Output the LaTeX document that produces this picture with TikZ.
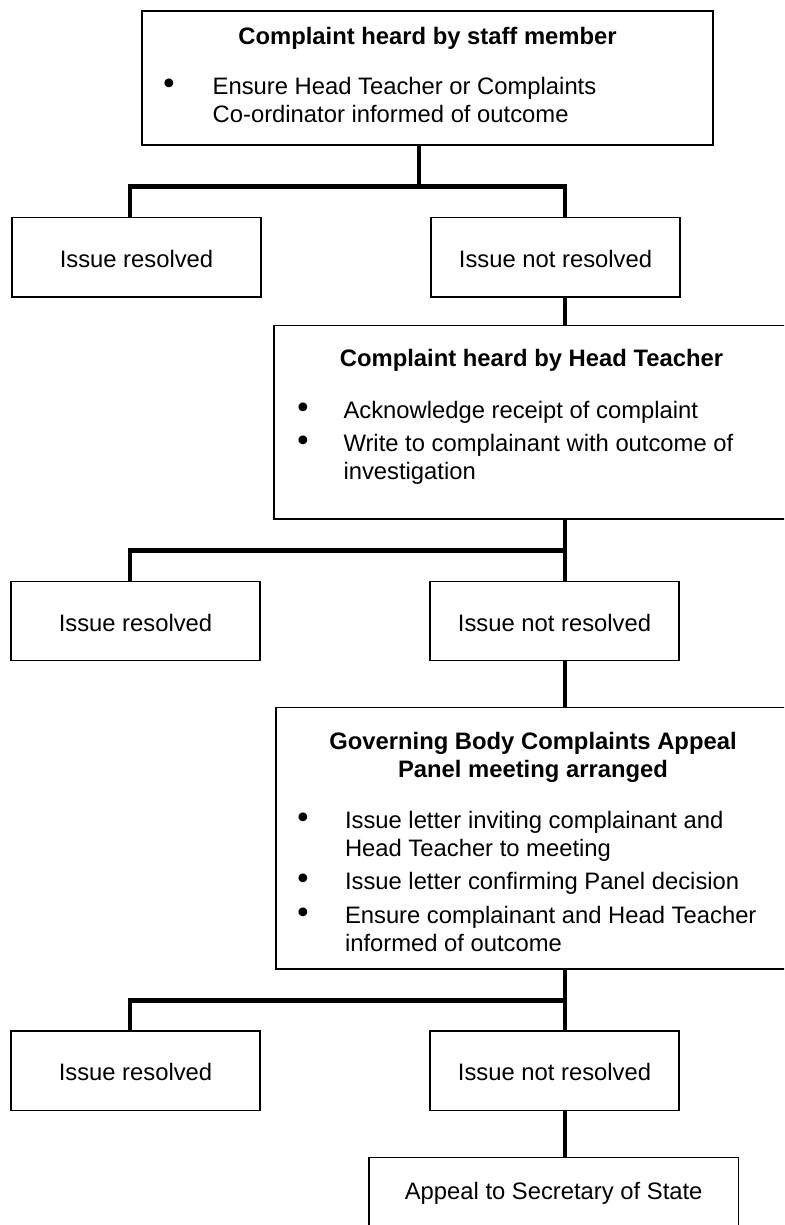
\documentclass[tikz,border=0pt]{standalone}
\usepackage{fontspec}
\setmainfont{Liberation Sans}
\newfontfamily\bulletfont{DejaVu Sans}
\begin{document}
\begin{tikzpicture}[x=1pt,y=-1pt,
  box/.style={draw=black,line width=1.3pt,inner sep=0pt,outer sep=0pt,anchor=north west},
  simple/.style={box,font=\fontsize{23.8}{28}\selectfont,text height=20pt,text depth=0pt},
  conn/.style={draw=black,line width=4.5pt,line join=miter,line cap=butt},
  txt/.style={inner sep=0pt,outer sep=0pt,anchor=base west,font=\fontsize{23.8}{28}\selectfont},
  ttl/.style={inner sep=0pt,outer sep=0pt,anchor=base,font=\fontsize{23.8}{28}\selectfont\bfseries},
  bul/.style={inner sep=0pt,outer sep=0pt,anchor=base,text height=15pt,text depth=0pt,font=\bulletfont\fontsize{30}{30}\selectfont}
]
\useasboundingbox (0,0) rectangle (784,1225);
\clip (0,0) rectangle (784,1225);

% boxes
\node[box,minimum width=571pt,minimum height=134pt] (top) at (142,11) {};
\node[simple,minimum width=249pt,minimum height=79.3pt] (res1) at (12,217.7) {Issue resolved};
\node[simple,minimum width=249pt,minimum height=79.3pt] (nres1) at (431,217.7) {Issue not resolved};
\node[box,minimum width=515pt,minimum height=193.7pt] (ht) at (274,325.3) {};
\node[simple,minimum width=249pt,minimum height=79pt] (res2) at (11,581.5) {Issue resolved};
\node[simple,minimum width=249pt,minimum height=79pt] (nres2) at (430,581.5) {Issue not resolved};
\node[box,minimum width=514pt,minimum height=261.7pt] (gb) at (276,707.3) {};
\node[simple,minimum width=249pt,minimum height=79.5pt] (res3) at (11,1031) {Issue resolved};
\node[simple,minimum width=249pt,minimum height=79.5pt] (nres3) at (430,1031) {Issue not resolved};
\node[box,font=\fontsize{23.8}{28}\selectfont,text height=17pt,text depth=15pt,
      minimum width=369.3pt,minimum height=82.3pt] (appeal) at (369,1157.7) {Appeal to Secretary of State};

% texts of top box
\node[ttl] (t1) at (427.5,45) {Complaint heard by staff member};
\node[bul] (b11) at (169,95) {•};
\node[txt] (t11) at (212.7,95) {Ensure Head Teacher or Complaints};
\node[txt] (t12) at (212.7,123) {Co-ordinator informed of outcome};

% texts of head teacher box
\node[ttl] (t2) at (531.5,366.5) {Complaint heard by Head Teacher};
\node[bul] (b21) at (303,418) {•};
\node[txt] (t21) at (343.5,418) {Acknowledge receipt of complaint};
\node[bul] (b22) at (303,451.5) {•};
\node[txt] (t22) at (343.5,451.5) {Write to complainant with outcome of};
\node[txt] (t23) at (343.5,479.5) {investigation};

% texts of governing body box
\node[ttl] (t3a) at (533,749.5) {Governing Body Complaints Appeal};
\node[ttl] (t3b) at (533,777) {Panel meeting arranged};
\node[bul] (b31) at (303,828) {•};
\node[txt] (t31) at (345,828) {Issue letter inviting complainant and};
\node[txt] (t32) at (345,856) {Head Teacher to meeting};
\node[bul] (b32) at (303,889.5) {•};
\node[txt] (t33) at (345,889.5) {Issue letter confirming Panel decision};
\node[bul] (b33) at (303,923.5) {•};
\node[txt] (t34) at (345,923.5) {Ensure complainant and Head Teacher};
\node[txt] (t35) at (345,951.5) {informed of outcome};

% connector columns and junctions
\coordinate (cL) at (130,0);
\coordinate (cR) at (565,0);
\coordinate (j1) at (419,186.5);
\coordinate (j2) at (565,550.5);
\coordinate (j3) at (565,1000.6);

% row 1
\draw[conn] (top.south -| j1) -- (j1);
\draw[conn] (res1.north -| cL) -- (cL |- j1) -- (cR |- j1) -- (nres1.north -| cR);
\draw[conn] (nres1.south -| cR) -- (ht.north -| cR);
% row 2
\draw[conn] (ht.south -| cR) -- (nres2.north -| cR);
\draw[conn] (res2.north -| cL) -- (cL |- j2) -- (j2);
\draw[conn] (nres2.south -| cR) -- (gb.north -| cR);
% row 3
\draw[conn] (gb.south -| cR) -- (nres3.north -| cR);
\draw[conn] (res3.north -| cL) -- (cL |- j3) -- (j3);
\draw[conn] (nres3.south -| cR) -- (appeal.north -| cR);
\end{tikzpicture}
\end{document}
